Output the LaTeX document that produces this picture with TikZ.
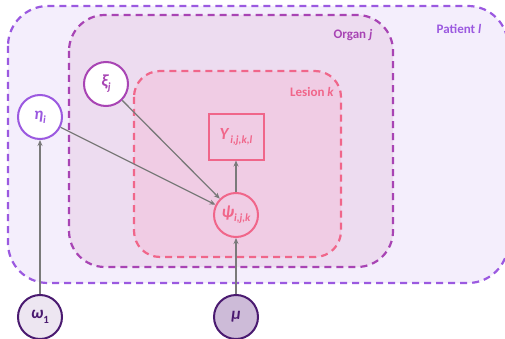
\documentclass[tikz,border=0pt]{standalone}
\usepackage{fontspec}
\setmainfont{Carlito}
\usetikzlibrary{arrows.meta}
\definecolor{patline}{HTML}{9B59E0}
\definecolor{patfill}{HTML}{F4EEFC}
\definecolor{orgline}{HTML}{A844B4}
\definecolor{orgfill}{HTML}{EDDCF0}
\definecolor{lesline}{HTML}{F0668A}
\definecolor{lesfill}{HTML}{F0CCE4}
\definecolor{hypline}{HTML}{4A1A70}
\definecolor{omfill}{HTML}{EDE6F1}
\definecolor{mufill}{HTML}{CDBBD8}
\definecolor{edge}{HTML}{7A7A7A}
% bold italic symbol with an optional subscript
\newcommand\varsym[2]{#1\raisebox{-0.25em}{\fontsize{11}{12}\selectfont #2}}
\tikzset{
  plate/.style={dashed, dash pattern=on 7pt off 5pt, line width=2.2pt},
  var/.style={circle, minimum size=44pt, inner sep=0pt, line width=2pt,
    font=\fontsize{17}{20}\selectfont\bfseries\itshape},
  obs/.style={rectangle, minimum width=55pt, minimum height=45pt, inner sep=0pt, line width=2pt,
    font=\fontsize{17}{20}\selectfont\bfseries\itshape},
  platelabel/.style={font=\fontsize{13}{15}\selectfont\bfseries},
  link/.style={draw=edge, line width=1.3pt, -{Stealth[length=6pt,width=5pt]}}
}
\begin{document}
\begin{tikzpicture}[x=1pt,y=-1pt]
\useasboundingbox (0,0) rectangle (505,339);
\begin{scope}
\clip (0,0) rectangle (505,339);
% nested plates
\draw[plate, draw=patline, fill=patfill, rounded corners=40pt] (8,6) rectangle (508,283);
\draw[plate, draw=orgline, fill=orgfill, rounded corners=36pt] (69,15) rectangle (393,267);
\draw[plate, draw=lesline, fill=lesfill, rounded corners=26pt] (134,71) rectangle (341,257);
\end{scope}
\node[platelabel, text=patline] (patlab) at (459,29) {Patient \textit{l}};
\node[platelabel, text=orgline] (orglab) at (353,35) {Organ \textit{j}};
\node[platelabel, text=lesline] (leslab) at (312,92) {Lesion \textit{k}};
% variables
\node[var, draw=patline, fill=white, text=patline] (eta) at (40,117) {\varsym{η}{i}};
\node[var, draw=orgline, fill=white, text=orgline] (xi) at (106,84) {\varsym{ξ}{j}};
\node[obs, draw=lesline, fill=lesfill, text=lesline] (Y) at (236,137) {\varsym{Y}{\,i,j,k,l}};
\node[var, draw=lesline, fill=lesfill, text=lesline] (psi) at (236,215) {\varsym{ψ}{i,j,k}};
\node[var, draw=hypline, fill=omfill, text=hypline] (omega) at (40,317) {\varsym{ω}{\upshape 1}};
\node[var, draw=hypline, fill=mufill, text=hypline] (mu) at (236,317) {μ};
% dependencies
\draw[link] (omega) -- (eta);
\draw[link] (mu) -- (psi);
\draw[link] (psi) -- (Y);
\draw[link] (eta) -- (psi);
\draw[link] (xi) -- (psi);
\end{tikzpicture}
\end{document}
